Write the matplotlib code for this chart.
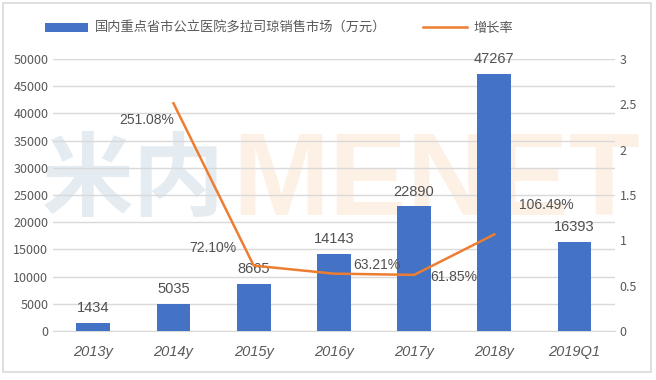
import matplotlib.pyplot as plt
from matplotlib.patches import Rectangle

plt.rcParams['font.family'] = ['Noto Sans CJK SC', 'DejaVu Sans']

years = ['2013y', '2014y', '2015y', '2016y', '2017y', '2018y', '2019Q1']
sales = [1434, 5035, 8665, 14143, 22890, 47267, 16393]
growth_years = ['2014y', '2015y', '2016y', '2017y', '2018y']
growth = [2.5108, 0.7210, 0.6321, 0.6185, 1.0649]
growth_labels = ['251.08%', '72.10%', '63.21%', '61.85%', '106.49%']

fig = plt.figure(figsize=(6.56, 3.8), dpi=100)
fig.patches.append(Rectangle((0.004, 0.02), 0.988, 0.972, transform=fig.transFigure,
                             fill=False, edgecolor='#d9d9d9', linewidth=1.2))

ax = fig.add_axes([0.081, 0.129, 0.856, 0.716])
ax.set_axisbelow(True)

# watermark (behind grid and bars)
ax.text(0.203, 0.52, '米内', transform=fig.transFigure, fontsize=66, fontweight='bold',
        color='#e4ecf2', ha='center', va='center', zorder=0.2)
ax.text(0.665, 0.515, 'MENET', transform=fig.transFigure, fontsize=84, fontweight='bold',
        color='#fdf1e6', ha='center', va='center', zorder=0.2, family='Liberation Sans')

x = list(range(len(years)))
ax.bar(x, sales, width=0.42, color='#4472C4', zorder=3,
       label='国内重点省市公立医院多拉司琼销售市场（万元）')
for xi, v in zip(x, sales):
    ax.text(xi, v + 2700, str(v), ha='center', va='center', fontsize=10.5, color='#505050',
            family='Liberation Sans', zorder=4)

ax.set_ylim(0, 50000)
ax.set_yticks(range(0, 50001, 5000))
ax.set_xlim(-0.5, len(years) - 0.5)
ax.set_xticks(x)
ax.set_xticklabels(years, fontstyle='italic', fontsize=10.5, color='#595959', family='Liberation Sans')
ax.tick_params(axis='y', labelsize=9, labelcolor='#595959', length=0)
ax.tick_params(axis='x', length=0, pad=10)
ax.grid(axis='y', color='#d9d9d9', linewidth=1)
for s in ['top', 'right', 'left']:
    ax.spines[s].set_visible(False)
ax.spines['bottom'].set_color('#d9d9d9')

ax2 = ax.twinx()
gx = [years.index(g) for g in growth_years]
ax2.plot(gx, growth, color='#ED7D31', linewidth=1.8, zorder=4, label='增长率')
ax2.set_ylim(0, 3)
ax2.set_yticks([0, 0.5, 1, 1.5, 2, 2.5, 3])
ax2.set_yticklabels(['0', '0.5', '1', '1.5', '2', '2.5', '3'])
ax2.tick_params(axis='y', labelsize=9, labelcolor='#595959', length=0)
for s in ax2.spines.values():
    s.set_visible(False)

offsets = [(-0.34, -0.19), (-0.51, 0.19), (0.54, 0.09), (0.5, -0.02), (0.65, 0.32)]
for xi, v, lab, (dx, dy) in zip(gx, growth, growth_labels, offsets):
    ax2.text(xi + dx, v + dy, lab, ha='center', va='center', fontsize=10, color='#505050',
             family='Liberation Sans')

h1, l1 = ax.get_legend_handles_labels()
h2, l2 = ax2.get_legend_handles_labels()
fig.legend(h1 + h2, l1 + l2, loc='center', bbox_to_anchor=(0.425, 0.925), ncol=2,
           frameon=False, fontsize=9.5, labelcolor='#595959', handlelength=3.3,
           columnspacing=2.8, handletextpad=0.5)

fig.savefig('out.png', dpi=100)
